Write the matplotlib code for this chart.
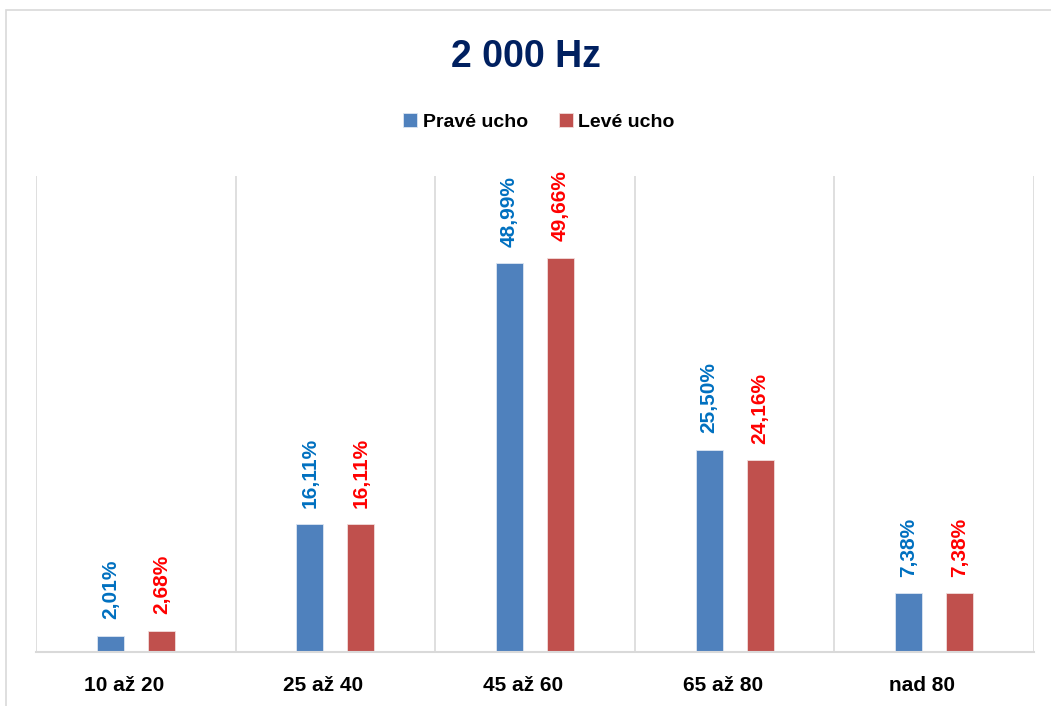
import matplotlib
matplotlib.use('Agg')
import matplotlib.pyplot as plt
import matplotlib.transforms as mtransforms
import numpy as np
from matplotlib.patches import Rectangle

plt.rcParams['font.family'] = ['Liberation Sans Narrow', 'Liberation Sans', 'DejaVu Sans']

# vekové skupiny a podíly pro obě uši
categories = ['10 až 20', '25 až 40', '45 až 60', '65 až 80', 'nad 80']
prave_ucho = [2.01, 16.11, 48.99, 25.50, 7.38]
leve_ucho = [2.68, 16.11, 49.66, 24.16, 7.38]
series_names = ['Pravé ucho', 'Levé ucho']

BAR_BLUE = '#4F81BD'
BAR_RED = '#C0504D'
LBL_BLUE = '#0070C0'
LBL_RED = '#FF0000'
GRID = '#D9D9D9'

fig = plt.figure(figsize=(10.51, 7.06), dpi=100)
ax = fig.add_axes([36/1051, 54/706, 998/1051, 476/706])

# rámeček grafu
fig.patches.append(Rectangle((6/1051, -0.1), 1.2, (706-10)/706 + 0.1,
                             transform=fig.transFigure, fill=False,
                             edgecolor=GRID, linewidth=1.2))

x = np.arange(len(categories))
w = 0.135
off = 0.128
b1 = ax.bar(x - off, prave_ucho, w, color=BAR_BLUE, label=series_names[0],
            edgecolor='#DCE6F2', linewidth=0.6)
b2 = ax.bar(x + off, leve_ucho, w, color=BAR_RED, label=series_names[1],
            edgecolor='#F2DCDB', linewidth=0.6)

def fmt(v):
    return f'{v:.2f}%'.replace('.', ',')

for bars, vals, c in ((b1, prave_ucho, LBL_BLUE), (b2, leve_ucho, LBL_RED)):
    for r, v in zip(bars, vals):
        ax.annotate(fmt(v), (r.get_x() + r.get_width()/2, v),
                    xytext=(0, 12), textcoords='offset points',
                    rotation=90, ha='center', va='bottom',
                    color=c, fontsize=15, fontweight='bold')

ax.set_xlim(-0.5, len(categories) - 0.5)
ax.set_ylim(0, 60)

# svislé čáry mezi skupinami
for b in np.arange(-0.5, len(categories), 1):
    ax.axvline(b, color=GRID, linewidth=1.2, zorder=0)

for s in ['top', 'right', 'left']:
    ax.spines[s].set_visible(False)
ax.spines['bottom'].set_color(GRID)
ax.spines['bottom'].set_linewidth(1.5)
ax.set_yticks([])
ax.set_xticks(x)
ax.set_xticklabels(categories, fontsize=15, fontweight='bold')
ax.tick_params(axis='x', length=0, pad=17)
shift = mtransforms.ScaledTranslation(-12/100, 0, fig.dpi_scale_trans)
for lbl in ax.get_xticklabels():
    lbl.set_transform(lbl.get_transform() + shift)

fig.text(0.5, 1 - 57/706, '2 000 Hz', ha='center', va='center',
         fontsize=27, fontweight='bold', color='#002060')

fig.legend(handles=[b1, b2], loc='center', bbox_to_anchor=(539/1051, 1 - 122/706),
           ncol=2, frameon=False,
           prop={'weight': 'bold', 'size': 14},
           handlelength=0.7, handleheight=0.7, handletextpad=0.3,
           columnspacing=1.6)

fig.savefig('out.png', dpi=100)
